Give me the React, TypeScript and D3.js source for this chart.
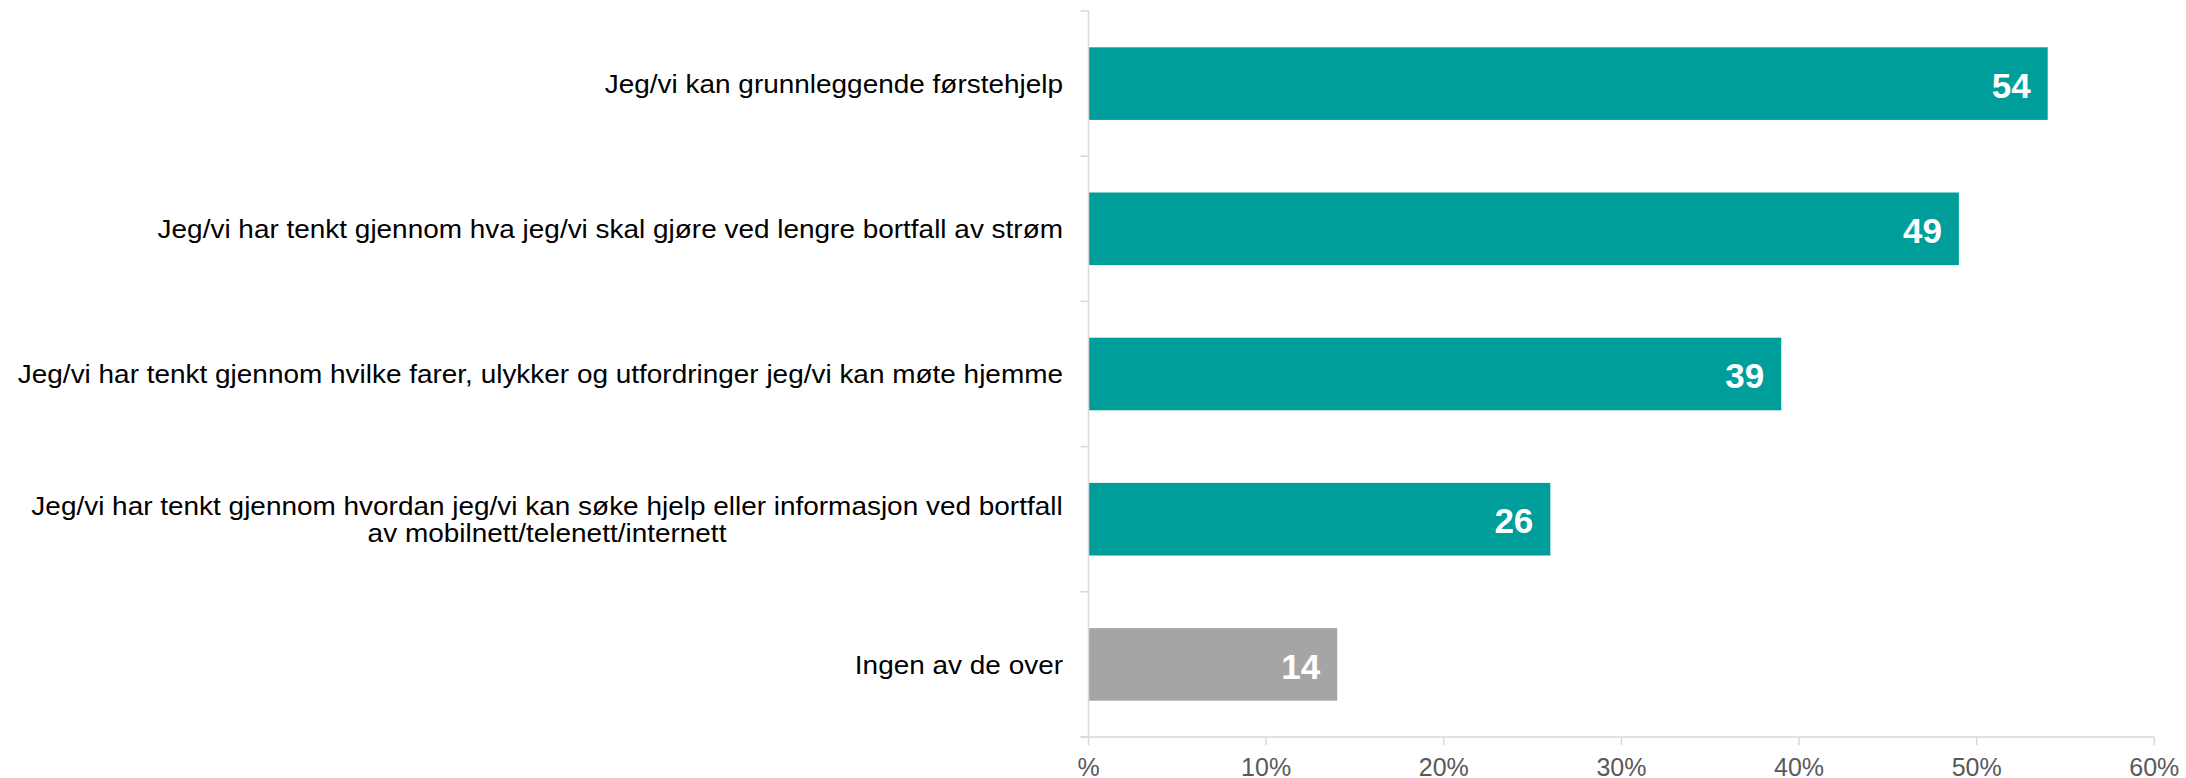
import React from "react";
import * as d3 from "d3";

const categories: string[][] = [
  ["Jeg/vi kan grunnleggende førstehjelp"],
  ["Jeg/vi har tenkt gjennom hva jeg/vi skal gjøre ved lengre bortfall av strøm"],
  ["Jeg/vi har tenkt gjennom hvilke farer, ulykker og utfordringer jeg/vi kan møte hjemme"],
  ["Jeg/vi har tenkt gjennom hvordan jeg/vi kan søke hjelp eller informasjon ved bortfall", "av mobilnett/telenett/internett"],
  ["Ingen av de over"],
];
const values: number[] = [54, 49, 39, 26, 14];
const barColors: string[] = ["#009E9A", "#009E9A", "#009E9A", "#009E9A", "#A5A5A5"];
const xTicks: number[] = [0, 10, 20, 30, 40, 50, 60];
const xTickLabels: string[] = ["%", "10%", "20%", "30%", "40%", "50%", "60%"];

const W = 2186;
const H = 778;
const left = 1088.5;
const right = 2154.3;
const top = 11;
const bottom = 737;
const FONT = "Arial, 'Liberation Sans', sans-serif";

export default function App() {
  const x = d3.scaleLinear().domain([0, 60]).range([left, right]);
  const idx = categories.map((_, i) => String(i));
  const y = d3.scaleBand().domain(idx).range([top, bottom]).paddingInner(0.5).paddingOuter(0.25);
  const band = (bottom - top) / categories.length;
  const axisColor = "#D9D9D9";
  const labelSize = 26;
  const stretch = 1.075;
  const lineH = 27.5;
  const valSize = 35;
  const anchorX = 1063;
  const twoLineCenter = 547;

  return (
    <svg width={W} height={H} style={{ position: "absolute", left: 0, top: 0, background: "#fff" }}>
      {/* bars */}
      {values.map((v, i) => (
        <rect key={"b" + i} x={x(0)} y={y(String(i))!} width={x(v) - x(0)} height={y.bandwidth()} fill={barColors[i]} />
      ))}
      {/* y axis */}
      <line x1={left} x2={left} y1={top} y2={bottom} stroke={axisColor} strokeWidth={1.5} />
      {d3.range(categories.length + 1).map((k) => (
        <line key={"yt" + k} x1={left - 8} x2={left} y1={top + k * band} y2={top + k * band} stroke={axisColor} strokeWidth={1.5} />
      ))}
      {/* x axis */}
      <line x1={left - 8} x2={right} y1={bottom} y2={bottom} stroke={axisColor} strokeWidth={1.5} />
      {xTicks.map((t, i) => (
        <g key={"xt" + i}>
          <line x1={x(t)} x2={x(t)} y1={bottom} y2={bottom + 8} stroke={axisColor} strokeWidth={1.5} />
          <text x={x(t)} y={776} textAnchor="middle" fontFamily={FONT} fontSize={25} fill="#595959">
            {xTickLabels[i]}
          </text>
        </g>
      ))}
      {/* category labels */}
      {categories.map((lines, i) => {
        const cy = y(String(i))! + y.bandwidth() / 2;
        const n = lines.length;
        return lines.map((ln, j) => {
          const ly = cy + (j - (n - 1) / 2) * lineH + labelSize * 0.35;
          const multi = n > 1;
          const ax = multi ? twoLineCenter : anchorX;
          return (
            <text
              key={"cl" + i + "_" + j}
              transform={`translate(${ax},${ly}) scale(${stretch},1)`}
              textAnchor={multi ? "middle" : "end"}
              fontFamily={FONT}
              fontSize={labelSize}
              fill="#000"
            >
              {ln}
            </text>
          );
        });
      })}
      {/* value labels */}
      {values.map((v, i) => (
        <text key={"v" + i} x={x(v) - 17} y={y(String(i))! + y.bandwidth() / 2 + valSize * 0.36 + 1.5} textAnchor="end" fontFamily={FONT} fontWeight="bold" fontSize={valSize} fill="#fff">
          {v}
        </text>
      ))}
    </svg>
  );
}
